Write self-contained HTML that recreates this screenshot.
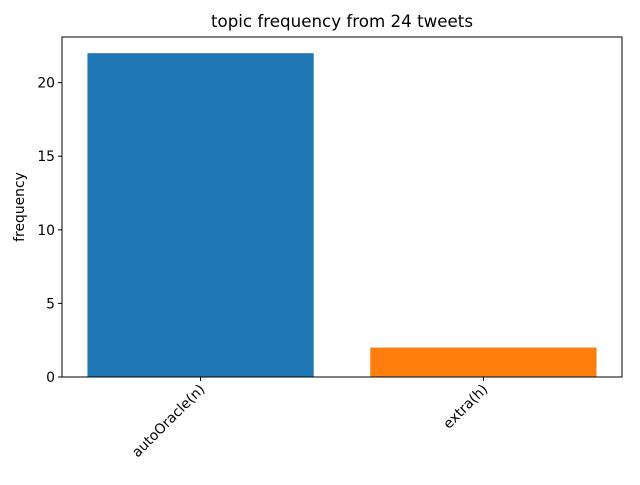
<!DOCTYPE html>
<html><head><style>body{margin:0;background:#fff}svg{font-family:"DejaVu Sans","Liberation Sans",sans-serif}</style></head>
<body>
<svg id="chart" width="640" height="480">
<text x="342" y="27" font-size="16.7" text-anchor="middle">topic frequency from 24 tweets</text>
<text transform="translate(24,207) rotate(-90)" font-size="13.9" text-anchor="middle">frequency</text>
<g id="marks"></g>
<rect x="62" y="37" width="560" height="340" fill="none" stroke="#000" stroke-width="1"/>
</svg>
<script>
const categories = ["autoOracle(n)", "extra(h)"];
const values = [22, 2];
const colors = ["#1f77b4", "#ff7f0e"];
const yTicks = [0, 5, 10, 15, 20];
const L=62,R=622,T=37,B=377;
const ymax = Math.max(...values)*1.05;
const xS = v => L + (v + 0.49) / 1.98 * (R - L);
const yS = v => B - v / ymax * (B - T);
const ns="http://www.w3.org/2000/svg";
const g=document.getElementById('marks');
function mk(t,a){const e=document.createElementNS(ns,t);for(const k in a)e.setAttribute(k,a[k]);g.appendChild(e);return e;}
values.forEach((v,i)=>{
  const r=mk('rect',{x:xS(i-0.4),y:yS(v),width:xS(i+0.4)-xS(i-0.4),height:B-yS(v),fill:colors[i]});
  
  
  const t=mk('line',{x1:xS(i),x2:xS(i),y1:B,y2:B+4,stroke:'#000'});
  
  
  const x=xS(i)+5, y=B+13;
  const l=mk('text',{x:x,y:y,'font-size':13.9,'text-anchor':'end',transform:`rotate(-45 ${x} ${y})`});
  
  
  l.textContent=categories[i];
});
yTicks.forEach(v=>{
  const t=mk('line',{x1:L-4,x2:L,y1:yS(v),y2:yS(v),stroke:'#000'});
  
  
  const l=mk('text',{x:L-7,y:yS(v)+5,'font-size':13.9,'text-anchor':'end'});
  
  
  l.textContent=v;
});
</script>
</body></html>
